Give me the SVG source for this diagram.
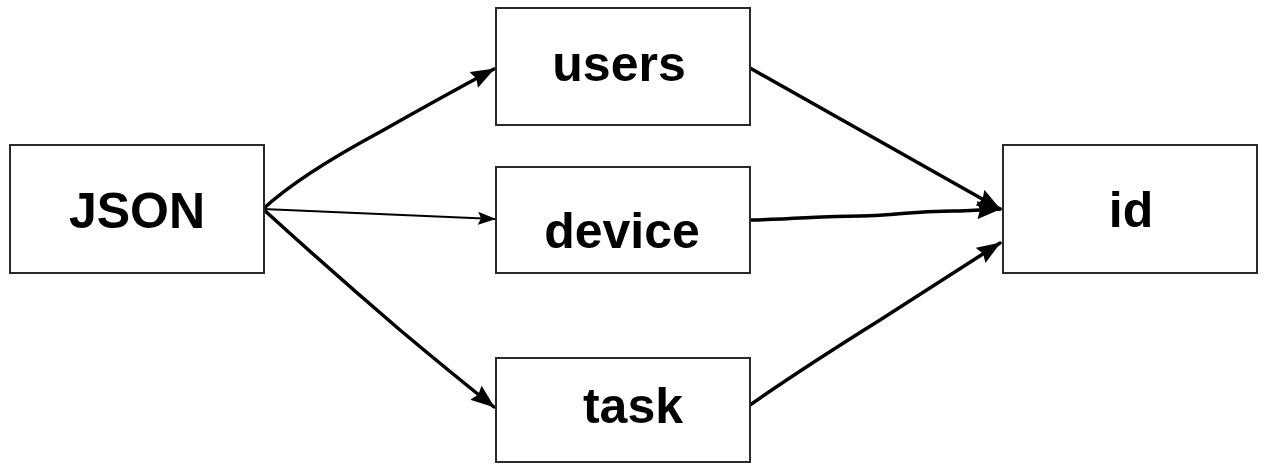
<svg xmlns="http://www.w3.org/2000/svg" width="1264" height="464" viewBox="0 0 1264 464">
<defs>
<marker id="ah" viewBox="0 0 24 18" refX="23" refY="9" markerWidth="24" markerHeight="18" markerUnits="userSpaceOnUse" orient="auto">
<path d="M0,0 L24,9 L0,18 L3,9 Z" fill="#000"/>
</marker>
<marker id="ahs" viewBox="0 0 18 13" refX="17" refY="6.5" markerWidth="18" markerHeight="13" markerUnits="userSpaceOnUse" orient="auto">
<path d="M0,0 L18,6.5 L0,13 L3,6.5 Z" fill="#000"/>
</marker>
</defs>
<style>
.box{fill:#fff;stroke:#2a2a2a;stroke-width:2}
.lbl{font-family:"Liberation Sans",Arial,sans-serif;font-weight:bold;font-size:50px;fill:#000;text-anchor:middle}
.c{fill:none;stroke:#000;stroke-width:3.5;stroke-linecap:round}
.t{fill:none;stroke:#000;stroke-width:1.8;stroke-linecap:round}
</style>
<rect width="1264" height="464" fill="#fff"/>
<g id="connectors">
<path class="c" d="M263,209 Q300,175 380,132 Q440,98 494,69" marker-end="url(#ah)"/>
<path class="t" d="M263,209 L495,219" marker-end="url(#ahs)"/>
<path class="c" d="M263,209 Q330,270 400,330 Q450,372 494,407" marker-end="url(#ah)"/>
<path class="c" d="M750,68 Q860,130 1000,209" marker-end="url(#ah)"/>
<path class="c" d="M750,220 C800,219 820,216 860,216 C900,216 910,210 960,211 L1000,209" marker-end="url(#ah)"/>
<path class="c" d="M750,405 Q800,370 880,320 Q950,275 1000,243" marker-end="url(#ah)"/>
</g>
<g id="node-json">
<rect class="box" x="10" y="145" width="254" height="128"/>
<text class="lbl" x="137" y="228">JSON</text>
</g>
<g id="node-users">
<rect class="box" x="496" y="8" width="254" height="117"/>
<text class="lbl" x="619" y="81">users</text>
</g>
<g id="node-device">
<rect class="box" x="496" y="167" width="254" height="106"/>
<text class="lbl" x="622" y="248">device</text>
</g>
<g id="node-task">
<rect class="box" x="496" y="358" width="254" height="104"/>
<text class="lbl" x="633" y="423">task</text>
</g>
<g id="node-id">
<rect class="box" x="1003" y="145" width="254" height="128"/>
<text class="lbl" x="1131" y="227">id</text>
</g>
</svg>
